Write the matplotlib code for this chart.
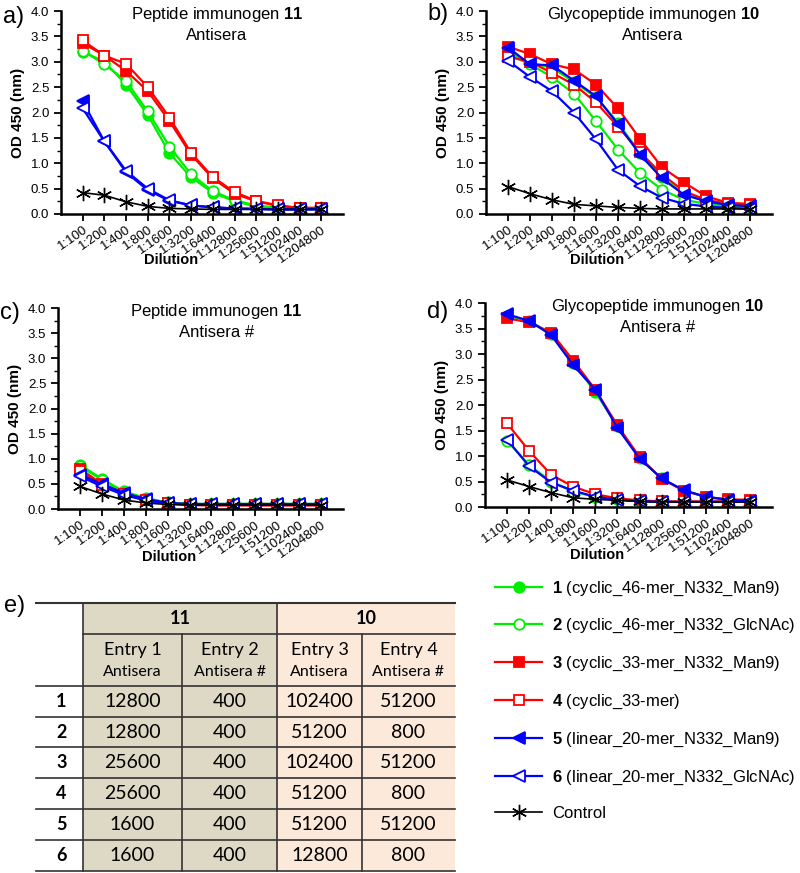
import numpy as np
import matplotlib.pyplot as plt
from matplotlib.patches import Rectangle
from matplotlib.ticker import MultipleLocator

plt.rcParams['font.family'] = ['Liberation Sans', 'DejaVu Sans']
plt.rcParams['mathtext.fontset'] = 'custom'
plt.rcParams['mathtext.bf'] = 'Liberation Sans:bold'
plt.rcParams['mathtext.rm'] = 'Liberation Sans'

dilutions = ["1:100", "1:200", "1:400", "1:800", "1:1600", "1:3200", "1:6400",
             "1:12800", "1:25600", "1:51200", "1:102400", "1:204800"]

# OD 450 values, rows: compounds 1..6 then control
od_a = [
    [3.20, 3.00, 2.55, 1.95, 1.20, 0.72, 0.42, 0.25, 0.15, 0.10, 0.10, 0.10],
    [3.22, 2.95, 2.62, 2.02, 1.33, 0.78, 0.45, 0.27, 0.17, 0.12, 0.10, 0.10],
    [3.37, 3.12, 2.82, 2.42, 1.83, 1.17, 0.70, 0.40, 0.25, 0.16, 0.12, 0.12],
    [3.42, 3.12, 2.96, 2.50, 1.90, 1.20, 0.73, 0.43, 0.26, 0.17, 0.12, 0.12],
    [2.22, 1.43, 0.82, 0.47, 0.26, 0.17, 0.13, 0.11, 0.10, 0.09, 0.09, 0.10],
    [2.08, 1.43, 0.85, 0.50, 0.27, 0.17, 0.13, 0.11, 0.10, 0.09, 0.09, 0.09],
    [0.42, 0.37, 0.24, 0.15, 0.11, 0.10, 0.09, 0.09, 0.09, 0.09, 0.09, 0.09],
]
od_b = [
    [3.20, 2.98, 2.88, 2.60, 2.30, 1.80, 1.20, 0.72, 0.40, 0.25, 0.17, 0.15],
    [3.15, 2.95, 2.70, 2.37, 1.83, 1.27, 0.81, 0.48, 0.28, 0.20, 0.15, 0.13],
    [3.30, 3.15, 2.95, 2.85, 2.55, 2.08, 1.48, 0.92, 0.62, 0.35, 0.22, 0.20],
    [3.10, 3.00, 2.78, 2.55, 2.20, 1.72, 1.22, 0.78, 0.45, 0.28, 0.20, 0.18],
    [3.28, 2.95, 2.93, 2.63, 2.32, 1.77, 1.17, 0.70, 0.38, 0.25, 0.18, 0.15],
    [3.02, 2.70, 2.42, 2.00, 1.47, 0.87, 0.55, 0.32, 0.20, 0.15, 0.12, 0.10],
    [0.54, 0.40, 0.28, 0.19, 0.16, 0.13, 0.11, 0.10, 0.10, 0.10, 0.10, 0.10],
]
od_c = [
    [0.88, 0.60, 0.35, 0.22, 0.13, 0.10, 0.10, 0.10, 0.10, 0.10, 0.10, 0.10],
    [0.85, 0.58, 0.33, 0.20, 0.12, 0.10, 0.10, 0.10, 0.10, 0.10, 0.10, 0.10],
    [0.80, 0.50, 0.30, 0.18, 0.12, 0.08, 0.07, 0.07, 0.07, 0.07, 0.07, 0.07],
    [0.75, 0.48, 0.30, 0.17, 0.11, 0.08, 0.08, 0.08, 0.08, 0.08, 0.08, 0.08],
    [0.68, 0.50, 0.32, 0.20, 0.12, 0.10, 0.10, 0.10, 0.10, 0.10, 0.10, 0.10],
    [0.65, 0.45, 0.28, 0.17, 0.11, 0.09, 0.09, 0.09, 0.09, 0.09, 0.09, 0.09],
    [0.45, 0.30, 0.18, 0.12, 0.09, 0.08, 0.08, 0.08, 0.08, 0.08, 0.08, 0.08],
]
od_d = [
    [3.75, 3.65, 3.40, 2.83, 2.25, 1.58, 0.96, 0.56, 0.32, 0.20, 0.14, 0.12],
    [1.30, 0.82, 0.50, 0.30, 0.20, 0.15, 0.11, 0.10, 0.10, 0.10, 0.10, 0.10],
    [3.70, 3.62, 3.42, 2.87, 2.30, 1.60, 0.98, 0.55, 0.32, 0.20, 0.15, 0.14],
    [1.64, 1.10, 0.63, 0.40, 0.25, 0.17, 0.13, 0.11, 0.11, 0.11, 0.11, 0.11],
    [3.78, 3.65, 3.37, 2.78, 2.30, 1.55, 0.95, 0.56, 0.33, 0.20, 0.14, 0.12],
    [1.32, 0.80, 0.48, 0.32, 0.20, 0.14, 0.11, 0.10, 0.10, 0.10, 0.10, 0.10],
    [0.53, 0.40, 0.28, 0.18, 0.15, 0.13, 0.11, 0.10, 0.10, 0.10, 0.10, 0.10],
]

labels = [r"$\mathbf{1}$ (cyclic_46-mer_N332_Man9)",
          r"$\mathbf{2}$ (cyclic_46-mer_N332_GlcNAc)",
          r"$\mathbf{3}$ (cyclic_33-mer_N332_Man9)",
          r"$\mathbf{4}$ (cyclic_33-mer)",
          r"$\mathbf{5}$ (linear_20-mer_N332_Man9)",
          r"$\mathbf{6}$ (linear_20-mer_N332_GlcNAc)",
          "Control"]
colors = ["#00ee00", "#00ee00", "#ff0000", "#ff0000", "#0000ff", "#0000ff", "black"]
markers = ["o", "o", "s", "s", "<", "<", (6, 2, 0)]
filled = [True, False, True, False, True, False, True]

# table e)
groups = ["11", "10"]
entries = ["Entry 1", "Entry 2", "Entry 3", "Entry 4"]
sera = ["Antisera", "Antisera #", "Antisera", "Antisera #"]
row_ids = ["1", "2", "3", "4", "5", "6"]
titers = [
    ["12800", "400", "102400", "51200"],
    ["12800", "400", "51200", "800"],
    ["25600", "400", "102400", "51200"],
    ["25600", "400", "51200", "800"],
    ["1600", "400", "51200", "51200"],
    ["1600", "400", "12800", "800"],
]

W, H = 800, 873
fig = plt.figure(figsize=(8, 8.73), dpi=100)


def px_axes(l, t, r, b):
    return fig.add_axes([l / W, 1 - b / H, (r - l) / W, (b - t) / H])


panels = [
    (od_a, (61, 11, 343, 214), "a)", "Peptide immunogen", "11", "Antisera", 0.553, (3, 17), -0.227),
    (od_b, (486, 11, 772, 214), "b)", "Glycopeptide immunogen", "10", "Antisera", 0.584, (427, 14), -0.227),
    (od_c, (58, 308, 343, 509), "c)", "Peptide immunogen", "11", "Antisera #", 0.556, (0, 313), -0.239),
    (od_d, (485, 303, 772, 507), "d)", "Glycopeptide immunogen", "10", "Antisera #", 0.60, (427, 312), -0.235),
]

x = np.arange(len(dilutions))
handles = []
for data, box, letter, t1, num, t2, tx, lpos, xly in panels:
    ax = px_axes(*box)
    hs = []
    for i, y in enumerate(data):
        ctrl = i == 6
        h, = ax.plot(x, y, color=colors[i], marker=markers[i],
                     lw=1.2 if ctrl else 1.6,
                     ms=11 if ctrl else (8.5 if markers[i] == "<" else 7.5 if markers[i] == "o" else 7),
                     mfc=colors[i] if filled[i] else "white",
                     mec=colors[i], mew=1.0 if ctrl else 1.3, label=labels[i])
        hs.append(h)
    handles = hs
    ax.set_xlim(-1, 12)
    ax.set_ylim(0, 4.0)
    ax.set_xticks(x)
    ax.set_xticklabels(dilutions, rotation=35, ha="right", rotation_mode="anchor",
                       fontsize=9.5)
    ax.yaxis.set_major_locator(MultipleLocator(0.5))
    ax.yaxis.set_minor_locator(MultipleLocator(0.25))
    ax.yaxis.set_major_formatter(plt.FormatStrFormatter("%.1f"))
    ax.tick_params(axis="y", labelsize=9.5, width=1.3, length=5)
    ax.tick_params(axis="y", which="minor", width=1.0, length=3)
    ax.tick_params(axis="x", width=1.3, length=5, pad=2)
    for s in ["top", "right"]:
        ax.spines[s].set_visible(False)
    for s in ["left", "bottom"]:
        ax.spines[s].set_linewidth(1.8)
    ax.set_ylabel("OD 450 (nm)", fontsize=11, fontweight="bold", labelpad=4)
    ax.set_xlabel("Dilution", fontsize=10.5, fontweight="bold", va="center")
    ax.xaxis.set_label_coords(0.39, xly)
    ax.text(tx, 0.985, t1 + r" $\mathbf{" + num + "}$", transform=ax.transAxes,
            ha="center", va="center", fontsize=12)
    ax.text(tx, 0.88, t2, transform=ax.transAxes, ha="center", va="center",
            fontsize=12)
    fig.text(lpos[0] / W, 1 - lpos[1] / H, letter, fontsize=17, ha="left", va="center")

# legend
fig.legend(handles=handles, loc="upper left", bbox_to_anchor=(487 / W, 1 - 571 / H),
           frameon=False, fontsize=12, handlelength=2.8, handletextpad=0.6,
           labelspacing=1.17, borderpad=0)

# table
tax = fig.add_axes([0, 0, 1, 1], zorder=-1)
tax.set_xlim(0, W)
tax.set_ylim(H, 0)
tax.axis("off")
col_x = [36, 83, 182, 277, 362, 455]
row_y = [603, 634, 686, 717, 747, 778, 809, 840, 871]
tfont = ["Lato", "DejaVu Sans"]
tax.add_patch(Rectangle((col_x[1], row_y[0]), col_x[3] - col_x[1], row_y[-1] - row_y[0],
                        color="#ddd9c4", lw=0))
tax.add_patch(Rectangle((col_x[3], row_y[0]), col_x[5] - col_x[3], row_y[-1] - row_y[0],
                        color="#fde9d9", lw=0))
lc = "#333333"
tax.plot([col_x[0], col_x[5]], [row_y[0]] * 2, color=lc, lw=1.5)
tax.plot([col_x[1], col_x[5]], [row_y[1]] * 2, color=lc, lw=1.2)
for yy in row_y[2:]:
    tax.plot([col_x[0], col_x[5]], [yy] * 2, color=lc, lw=1.2)
for k, xx in enumerate(col_x[1:5]):
    top = row_y[0] if k % 2 == 0 else row_y[1]
    tax.plot([xx, xx], [top, row_y[-1]], color=lc, lw=1.2)
for g, name in enumerate(groups):
    cx = (col_x[1 + 2 * g] + col_x[3 + 2 * g]) / 2
    tax.text(cx, (row_y[0] + row_y[1]) / 2, name, ha="center", va="center",
             fontsize=13, fontweight="bold", family=tfont)
for j in range(4):
    cx = (col_x[j + 1] + col_x[j + 2]) / 2
    tax.text(cx, 650, entries[j], ha="center", va="center", fontsize=13, family=tfont)
    tax.text(cx, 672, sera[j], ha="center", va="center", fontsize=11.5, family=tfont)
for r in range(6):
    cy = (row_y[r + 2] + row_y[r + 3]) / 2
    tax.text((col_x[0] + col_x[1]) / 2 + 2, cy, row_ids[r], ha="center", va="center",
             fontsize=13, fontweight="bold", family=tfont)
    for j in range(4):
        cx = (col_x[j + 1] + col_x[j + 2]) / 2
        tax.text(cx, cy, titers[r][j], ha="center", va="center", fontsize=14,
                 family=tfont)
fig.text(4 / W, 1 - 606 / H, "e)", fontsize=17, ha="left", va="center")

fig.savefig("out.png", dpi=100)
